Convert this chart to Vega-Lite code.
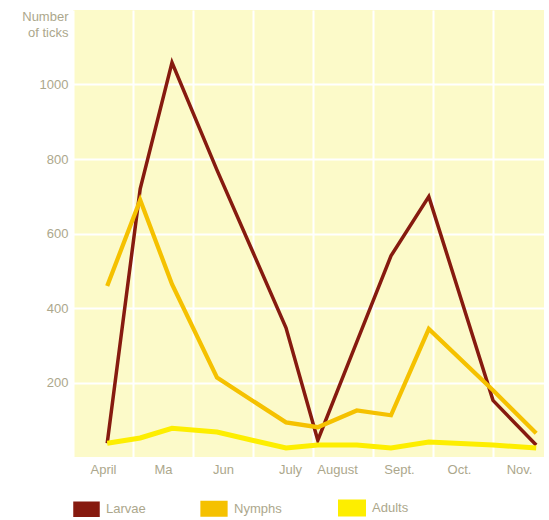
{
  "$schema": "https://vega.github.io/schema/vega-lite/v6.json",
  "width": 471,
  "height": 447,
  "autosize": "none",
  "padding": {"left": 73, "top": 10, "right": 5, "bottom": 63},
  "background": "white",
  "config": {
    "view": {"fill": "#fcfac9", "stroke": null},
    "font": "Liberation Sans",
    "axis": {"labelFont": "Liberation Sans", "titleFont": "Liberation Sans"},
    "legend": {"labelFont": "Liberation Sans"}
  },
  "data": {
    "values": [
      {"m": 0.57, "stage": "Larvae", "ticks": 37},
      {"m": 1.12, "stage": "Larvae", "ticks": 720},
      {"m": 1.65, "stage": "Larvae", "ticks": 1059},
      {"m": 2.4, "stage": "Larvae", "ticks": 770},
      {"m": 3.55, "stage": "Larvae", "ticks": 347},
      {"m": 4.08, "stage": "Larvae", "ticks": 45},
      {"m": 4.73, "stage": "Larvae", "ticks": 309},
      {"m": 5.3, "stage": "Larvae", "ticks": 540},
      {"m": 5.93, "stage": "Larvae", "ticks": 699},
      {"m": 7.0, "stage": "Larvae", "ticks": 152},
      {"m": 7.72, "stage": "Larvae", "ticks": 32},
      {"m": 0.57, "stage": "Nymphs", "ticks": 459},
      {"m": 1.12, "stage": "Nymphs", "ticks": 690},
      {"m": 1.65, "stage": "Nymphs", "ticks": 464},
      {"m": 2.4, "stage": "Nymphs", "ticks": 213},
      {"m": 3.55, "stage": "Nymphs", "ticks": 93},
      {"m": 4.08, "stage": "Nymphs", "ticks": 80},
      {"m": 4.73, "stage": "Nymphs", "ticks": 125},
      {"m": 5.3, "stage": "Nymphs", "ticks": 112},
      {"m": 5.93, "stage": "Nymphs", "ticks": 344},
      {"m": 7.0, "stage": "Nymphs", "ticks": 179},
      {"m": 7.72, "stage": "Nymphs", "ticks": 64},
      {"m": 0.57, "stage": "Adults", "ticks": 37},
      {"m": 1.12, "stage": "Adults", "ticks": 51},
      {"m": 1.65, "stage": "Adults", "ticks": 77},
      {"m": 2.4, "stage": "Adults", "ticks": 67},
      {"m": 3.55, "stage": "Adults", "ticks": 24},
      {"m": 4.08, "stage": "Adults", "ticks": 32},
      {"m": 4.73, "stage": "Adults", "ticks": 32},
      {"m": 5.3, "stage": "Adults", "ticks": 24},
      {"m": 5.93, "stage": "Adults", "ticks": 40},
      {"m": 7.0, "stage": "Adults", "ticks": 32},
      {"m": 7.72, "stage": "Adults", "ticks": 24}
    ]
  },
  "mark": {"type": "line", "strokeJoin": "miter", "strokeCap": "butt", "clip": true},
  "encoding": {
    "x": {
      "field": "m",
      "type": "quantitative",
      "scale": {"domain": [0, 7.85], "nice": false, "zero": false},
      "axis": {
        "values": [0, 1, 2, 3, 4, 5, 6, 7],
        "labelExpr": "['April','Ma','Jun','July','August','Sept.','Oct.','Nov.'][datum.value]",
        "labelOffset": {"condition": [{"test": "datum.value == 3", "value": 37}, {"test": "datum.value == 4", "value": 24}, {"test": "datum.value >= 5", "value": 26}], "value": 30},
        "labelAlign": "center",
        "labelFontSize": 13,
        "labelColor": "#aca78c",
        "labelPadding": 6,
        "ticks": false,
        "domain": false,
        "grid": true,
        "gridColor": "white",
        "gridWidth": 2,
        "gridOpacity": 1,
        "title": null
      }
    },
    "y": {
      "field": "ticks",
      "type": "quantitative",
      "scale": {"domain": [0, 1200], "nice": false},
      "axis": {
        "values": [200, 400, 600, 800, 1000],
        "format": "d",
        "labelFontSize": 13,
        "labelColor": "#aca78c",
        "labelPadding": 5,
        "ticks": false,
        "domain": false,
        "grid": true,
        "gridColor": "white",
        "gridWidth": 2,
        "gridOpacity": 1,
        "title": ["Number", "of ticks"],
        "titleAngle": 0,
        "titleAlign": "right",
        "titleBaseline": "top",
        "titleX": -5,
        "titleY": 0,
        "titleFontSize": 13,
        "titleFontWeight": "normal",
        "titleColor": "#aca78c",
        "titleLineHeight": 16
      }
    },
    "color": {
      "field": "stage",
      "type": "nominal",
      "scale": {"domain": ["Larvae", "Nymphs", "Adults"], "range": ["#861a0f", "#f5c100", "#fdee00"]},
      "legend": {
        "title": null,
        "orient": "none",
        "legendX": 0,
        "legendY": 484,
        "direction": "horizontal",
        "padding": 0,
        "symbolType": "M-1,-0.52H1V0.52H-1Z",
        "symbolSize": 529,
        "symbolStrokeWidth": 0,
        "labelFontSize": 13,
        "labelColor": "#aca78c",
        "labelOffset": 6,
        "labelExpr": "datum.label == 'Nymphs' ? 'Nymphs\u00a0\u00a0' : datum.label",
        "columnPadding": 48,
        "encode": {"symbols": {"update": {"fill": {"scale": "color", "field": "value"}, "strokeWidth": {"value": 0}}}}
      }
    },
    "strokeWidth": {
      "field": "stage",
      "type": "nominal",
      "scale": {"domain": ["Larvae", "Nymphs", "Adults"], "range": [3.5, 5, 6]},
      "legend": null
    },
    "order": {"field": "m", "type": "quantitative"}
  }
}
